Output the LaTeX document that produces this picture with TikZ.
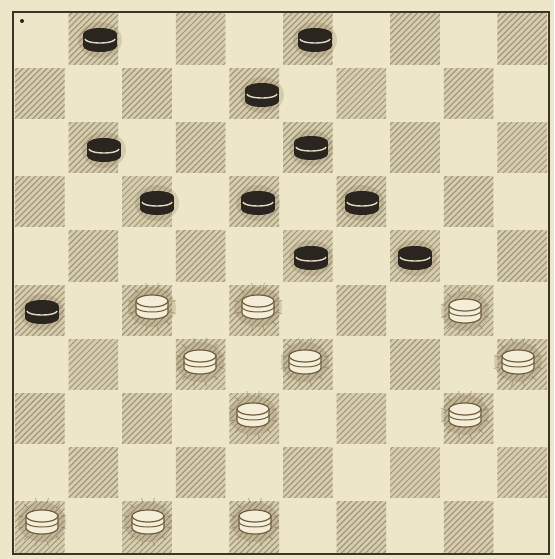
\documentclass[tikz,border=0pt]{standalone}
\definecolor{paper}{HTML}{EEE6C8}
\definecolor{darksq}{HTML}{D6CDAE}
\definecolor{hatch}{HTML}{9E9374}
\definecolor{ink}{HTML}{2A251F}
\definecolor{frame}{HTML}{3A342A}
\definecolor{cream}{HTML}{F4EED8}
\definecolor{brn}{HTML}{6E5E3E}
\newcommand\blackman[2]{%
  \fill[brn,opacity=0.18] (#1,#2) ellipse[x radius=22,y radius=18];
  \fill[ink] (#1,#2+6) ellipse[x radius=17,y radius=6];
  \fill[ink] (#1-17,#2-6) rectangle (#1+17,#2+6);
  \fill[ink] (#1,#2-6) ellipse[x radius=17,y radius=6];
  \draw[cream!80!hatch,line width=1.4] (#1-15,#2-1) arc[start angle=180,end angle=0,x radius=15,y radius=4];
}
\newcommand\whiteman[2]{%
  \fill[brn,opacity=0.2] (#1,#2) ellipse[x radius=24,y radius=20];
  \foreach \a in {15,45,...,345}{\draw[brn,opacity=0.45,line width=0.8] (#1,#2) ++(\a:20) -- ++(\a:5);}
  \fill[cream] (#1,#2+6) ellipse[x radius=16,y radius=6];
  \fill[cream] (#1-16,#2-6) rectangle (#1+16,#2+6);
  \draw[brn,line width=1.2] (#1-16,#2-6) -- (#1-16,#2+6) arc[start angle=180,end angle=0,x radius=16,y radius=6] -- (#1+16,#2-6);
  \draw[brn,line width=1.0] (#1-16,#2) arc[start angle=180,end angle=0,x radius=16,y radius=5];
  \filldraw[fill=cream,draw=brn,line width=1.2] (#1,#2-6) ellipse[x radius=16,y radius=6];
}
\begin{document}
\begin{tikzpicture}[x=1pt,y=-1pt]
\fill[paper] (0,0) rectangle (554,559);
\useasboundingbox (0,0) rectangle (554,559);
% dark squares
\foreach \r in {0,...,9}{
  \foreach \c in {0,...,9}{
    \pgfmathtruncatemacro\parity{mod(\r+\c,2)}
    \ifnum\parity=1
      \pgfmathsetmacro\xa{13+53.6*\c}
      \pgfmathsetmacro\ya{12+54.2*\r}
      \begin{scope}
        \clip (\xa+2,\ya+2) rectangle (\xa+51.6,\ya+52.2);
        \fill[darksq] (\xa,\ya) rectangle (\xa+53.6,\ya+54.2);
        \foreach \k in {-54,-48,...,54}{
          \draw[hatch,line width=1] (\xa+\k,\ya+54.2) -- (\xa+\k+54.2,\ya);
        }
      \end{scope}
    \fi
  }
}
% frame
\draw[frame,line width=2] (13,12) rectangle (549,554);
\fill[ink] (22,21) circle[radius=2];
% black men
\blackman{100}{40}\blackman{315}{40}\blackman{262}{95}\blackman{104}{150}\blackman{311}{148}
\blackman{157}{203}\blackman{258}{203}\blackman{362}{203}\blackman{311}{258}\blackman{415}{258}
\blackman{42}{312}
% white men
\whiteman{152}{307}\whiteman{258}{307}\whiteman{465}{311}
\whiteman{200}{362}\whiteman{305}{362}\whiteman{518}{362}
\whiteman{253}{415}\whiteman{465}{415}
\whiteman{42}{522}\whiteman{148}{522}\whiteman{255}{522}
\end{tikzpicture}
\end{document}
